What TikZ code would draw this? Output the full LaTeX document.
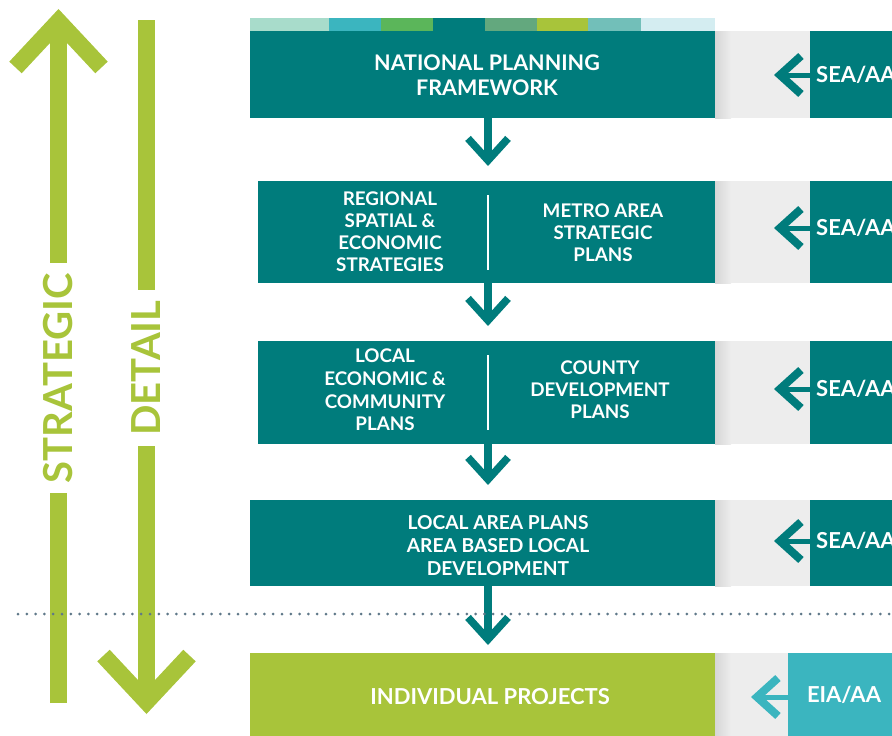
\documentclass[tikz,border=0pt]{standalone}
\usepackage{fontspec}
\setmainfont{Lato}
\usepackage{tikz}
\usetikzlibrary{positioning, arrows.meta}
\definecolor{planTeal}{RGB}{0,124,124}
\definecolor{planLime}{RGB}{168,196,58}
\definecolor{planCyan}{RGB}{59,181,191}
\definecolor{panelGrey}{RGB}{237,237,237}
\definecolor{dotGrey}{RGB}{95,120,137}
\definecolor{stripMint}{RGB}{168,220,203}
\definecolor{stripGreen}{RGB}{91,182,90}
\definecolor{stripSage}{RGB}{99,168,126}
\definecolor{stripSoft}{RGB}{114,191,185}
\definecolor{stripPale}{RGB}{212,237,241}
\tikzstyle{pixelGrid} = [x = 1pt, y = -1pt]
\tikzstyle{planBoxStyle} = [fill=planTeal, anchor=north west, inner sep=0, outer sep=0]
\tikzstyle{planText} = [text=white, align=center, inner sep=0, font=\bfseries\fontsize{18.8}{22}\selectfont]
\tikzstyle{assessText} = [text=white, inner sep=0, font=\bfseries\fontsize{22}{26}\selectfont]
\tikzstyle{scaleText} = [text=planLime, fill=white, rotate=90, inner xsep=10pt, inner ysep=0pt, font=\bfseries\fontsize{40}{40}\selectfont]
\tikzstyle{flowArrow} = [color=planTeal, line width=7.5pt, -{Straight Barb[length=22pt, width=40pt]}]
\tikzstyle{assessArrow} = [line width=5pt, -{Straight Barb[length=21pt, width=38pt, line width=8pt]}]
\tikzstyle{scaleArrow} = [color=planLime, line width=17pt, -{Straight Barb[length=46pt, width=86pt]}]
\tikzstyle{splitLine} = [color=white, line width=2pt]
\tikzstyle{cutLine} = [color=dotGrey, line width=3pt, line cap=round, dash pattern=on 0pt off 8.8pt]
\tikzstyle{panelShadow} = [left color=black!16, right color=panelGrey]
\newcommand{\planBox}[6]{\node [planBoxStyle, fill=#6, minimum width=#4pt, minimum height=#5pt] (#1) at (#2,#3) {};}
\newcommand{\greyPanel}[3]{
  \fill [panelGrey] (715,#1) rectangle (#3,#1+#2);
  \shade [panelShadow] (715,#1) rectangle (731,#1+#2);
}
\newcommand{\seaPanel}[4]{
  \greyPanel{#2}{#3}{810}
  \planBox{#1}{810}{#2}{100}{#3}{planTeal}
  \node [assessText, anchor=west] (#1Label) at (816,#4) {SEA/AA};
  \coordinate (#1Tip) at (774,#4);
  \draw [assessArrow, color=planTeal] (#1.west |- #1Tip) -- (#1Tip);
}
\begin{document}
\begin{tikzpicture}[pixelGrid]
  \useasboundingbox (0,0) rectangle (892,736);
  \coordinate (spine) at (488,0);

  \foreach \xa/\xb/\colour in {250/329/stripMint, 329/381/planCyan, 381/433/stripGreen, 433/485/planTeal, 485/537/stripSage, 537/588/planLime, 588/641/stripSoft, 641/715/stripPale}
    \fill [\colour] (\xa,18) rectangle (\xb,31);

  \planBox{national}{250}{31}{465}{87}{planTeal}
  \planBox{regional}{258}{181}{457}{102}{planTeal}
  \planBox{local}{258}{341}{457}{103}{planTeal}
  \planBox{areaPlans}{250}{500}{465}{86}{planTeal}
  \planBox{projects}{250}{653}{465}{90}{planLime}

  \node [planText, font=\bfseries\fontsize{21.5}{25}\selectfont] (nationalText) at (487,75) {NATIONAL PLANNING\\FRAMEWORK};
  \node [planText] (regionalText) at (390,232) {REGIONAL\\SPATIAL \&\\ECONOMIC\\STRATEGIES};
  \node [planText] (metroText) at (603,233) {METRO AREA\\STRATEGIC\\PLANS};
  \node [planText, font=\bfseries\fontsize{18.8}{22.7}\selectfont] (localText) at (385,390) {LOCAL\\ECONOMIC \&\\COMMUNITY\\PLANS};
  \node [planText] (countyText) at (600,390) {COUNTY\\DEVELOPMENT\\PLANS};
  \node [planText, font=\bfseries\fontsize{19.2}{23}\selectfont] (areaText) at (498,546) {LOCAL AREA PLANS\\AREA BASED LOCAL\\DEVELOPMENT};
  \node [planText, font=\bfseries\fontsize{22}{25}\selectfont] (projectsText) at (490,697) {INDIVIDUAL PROJECTS};

  \draw [splitLine] (regional.north -| spine) ++(0,14) -- ++(0,75);
  \draw [splitLine] (local.north -| spine) ++(0,14) -- ++(0,75);

  \draw [flowArrow, shorten >=15pt] (national.south -| spine) -- (regional.north -| spine);
  \draw [flowArrow, shorten >=15pt] (regional.south -| spine) -- (local.north -| spine);
  \draw [flowArrow, shorten >=15pt] (local.south -| spine) -- (areaPlans.north -| spine);
  \draw [flowArrow, shorten >=8pt] (areaPlans.south -| spine) -- (projects.north -| spine);

  \seaPanel{seaNational}{31}{87}{75}
  \seaPanel{seaRegional}{181}{102}{228}
  \seaPanel{seaLocal}{341}{103}{389}
  \seaPanel{seaArea}{500}{86}{541}

  \greyPanel{653}{90}{788}
  \planBox{eia}{788}{653}{112}{90}{planCyan}
  \node [assessText] (eiaLabel) at (844,695) {EIA/AA};
  \coordinate (eiaTip) at (751,697);
  \draw [assessArrow, color=planCyan] (eia.west |- eiaTip) -- (eiaTip);

  \coordinate (strategicFoot) at (58.5,703);
  \coordinate (strategicHead) at (58.5,9);
  \draw [scaleArrow] (strategicFoot) -- (strategicHead);
  \node [scaleText] (strategicLabel) at (58.5,378) {STRATEGIC};

  \coordinate (detailTop) at (146.5,20);
  \coordinate (detailHead) at (146.5,714);
  \draw [scaleArrow] (detailTop) -- (detailHead);
  \node [scaleText] (detailLabel) at (146.5,368) {DETAIL};

  \coordinate (cutLeft) at (18,614);
  \coordinate (cutRight) at (892,614);
  \draw [cutLine] (cutLeft) -- (cutRight);
\end{tikzpicture}
\end{document}
